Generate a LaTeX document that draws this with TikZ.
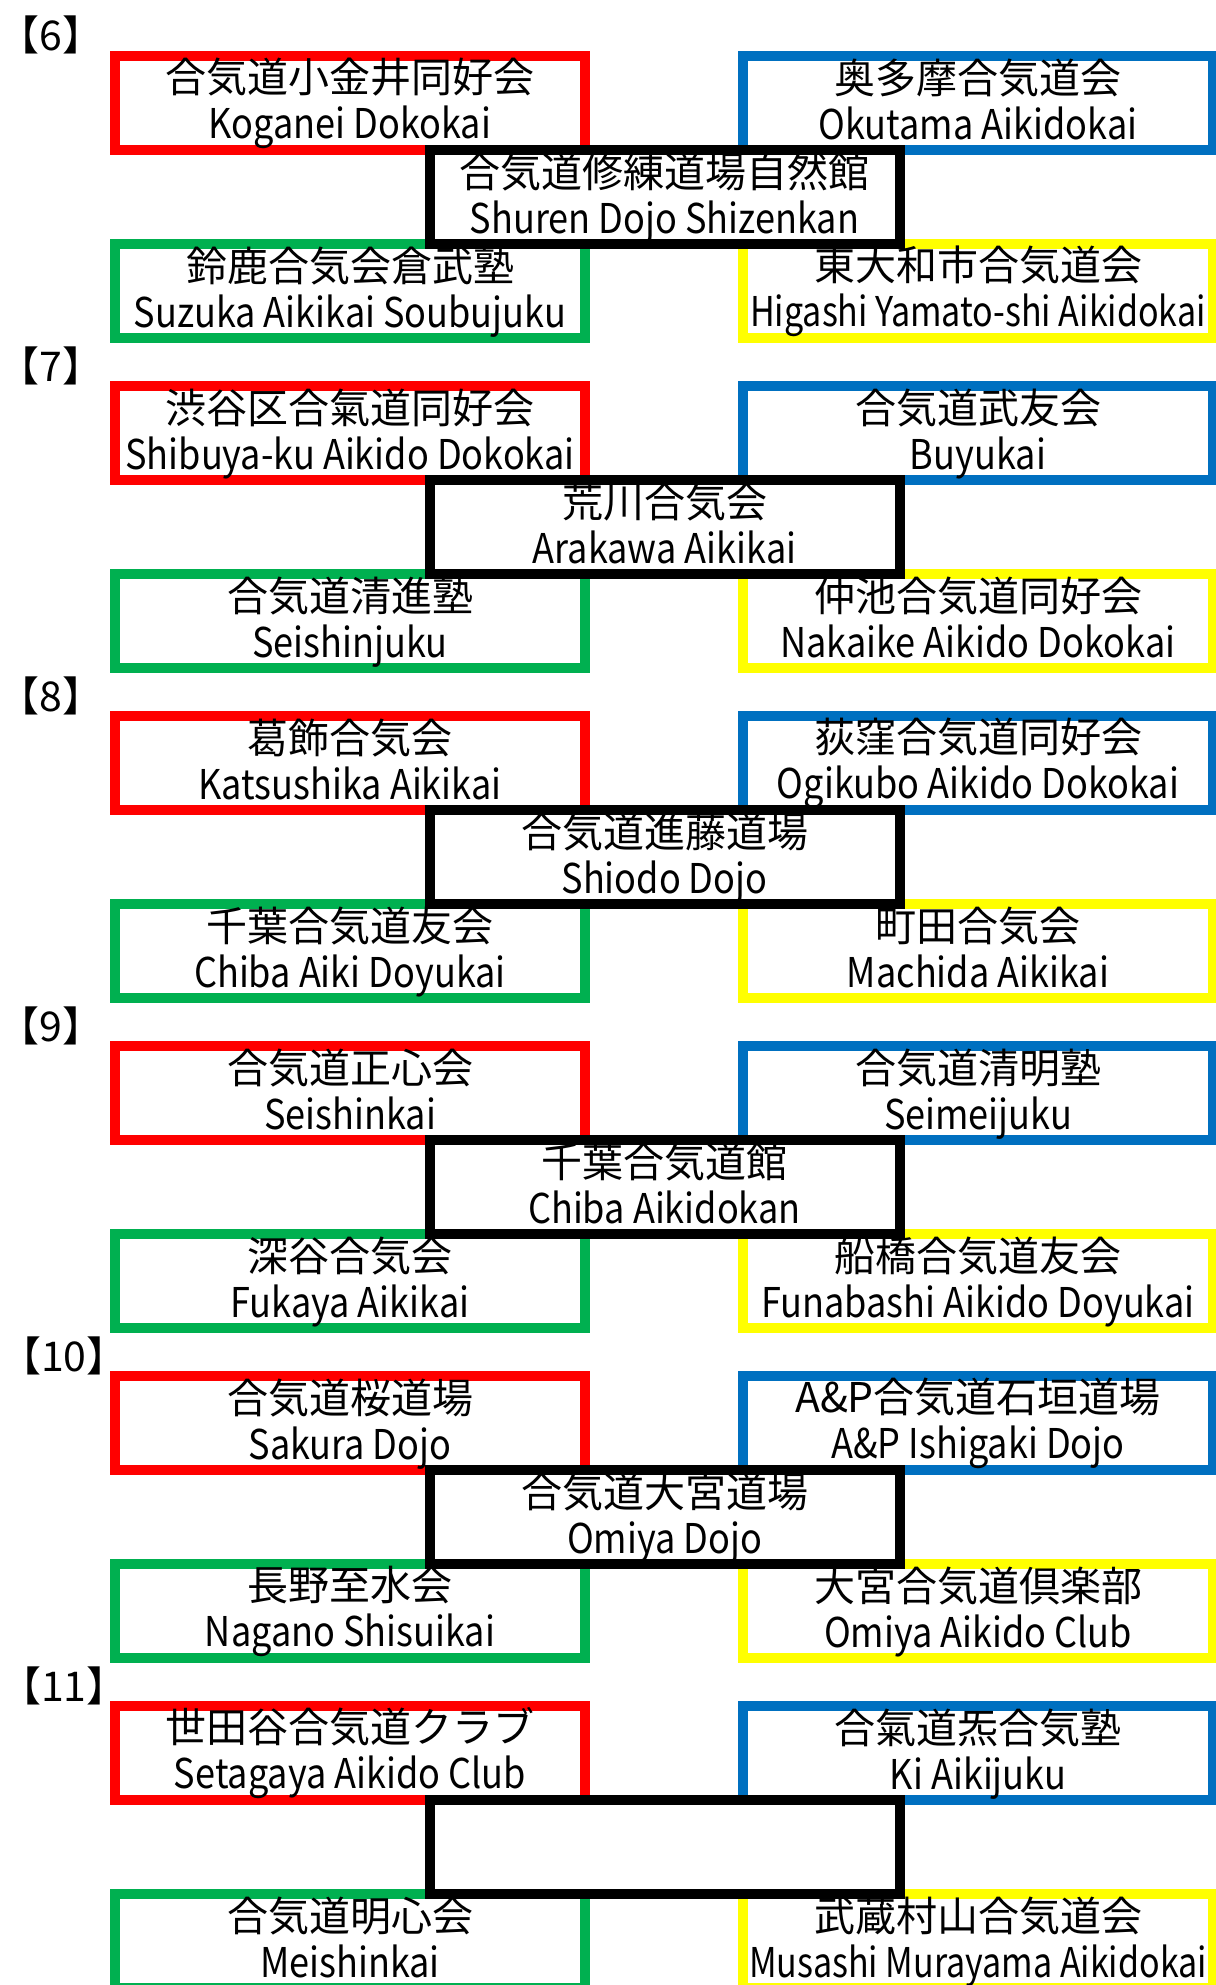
\documentclass[tikz,border=0pt]{standalone}
\usepackage{fontspec}
\setmainfont{Noto Sans CJK JP}
\newfontfamily\latin[FakeStretch=0.88]{Noto Sans CJK JP}
\newfontfamily\narrow[FakeStretch=0.83]{Noto Sans CJK JP}
\definecolor{clubred}{HTML}{FF0000}
\definecolor{clubblue}{HTML}{0070C0}
\definecolor{clubgreen}{HTML}{00B050}
\definecolor{clubyellow}{HTML}{FFFF00}
\def\boxw{470pt}
\def\boxh{94pt}
\newcommand\club[2]{\rule{0pt}{36pt}\makebox[0pt]{#1}\\\makebox[0pt]{\latin #2}\rule[-9pt]{0pt}{9pt}}

\begin{document}
\begin{tikzpicture}[x=1pt,y=-1pt,
  box/.style={draw, line width=10pt, minimum width=\boxw, minimum height=\boxh,
    inner sep=0pt, align=center, font=\fontsize{41}{46}\selectfont},
  redbox/.style={box, draw=clubred},
  bluebox/.style={box, draw=clubblue},
  greenbox/.style={box, draw=clubgreen},
  yellowbox/.style={box, draw=clubyellow},
  blackbox/.style={box, draw=black},
  head/.style={inner sep=0pt, font=\fontsize{41}{46}\selectfont}]
\useasboundingbox (0,0) rectangle (1215,1985);

% group headers
\foreach \g/\x/\y/\a in {6/51/51/base, 7/51/381/base, 8/51/711/base, 9/51/1041/base,
    10/0/1371/base west, 11/0/1701/base west}{
  \node[head, anchor=\a] (h\g) at (\x,\y) {【\g】};
}

% 6
\node[redbox] (r6) at (350,103) {\club{合気道小金井同好会}{Koganei Dokokai}};
\node[bluebox] (b6) at (978,103) {\club{奥多摩合気道会}{Okutama Aikidokai}};
\node[greenbox] (g6) at (350,291) {\club{鈴鹿合気会倉武塾}{Suzuka Aikikai Soubujuku}};
\node[yellowbox] (y6) at (978,291) {\club{東大和市合気道会}{\narrow Higashi Yamato-shi Aikidokai}};
\node[blackbox] (k6) at (664.5,197) {\club{合気道修練道場自然館}{Shuren Dojo Shizenkan}};

% 7
\node[redbox] (r7) at (350,433) {\club{渋谷区合氣道同好会}{Shibuya-ku Aikido Dokokai}};
\node[bluebox] (b7) at (978,433) {\club{合気道武友会}{Buyukai}};
\node[greenbox] (g7) at (350,621) {\club{合気道清進塾}{Seishinjuku}};
\node[yellowbox] (y7) at (978,621) {\club{仲池合気道同好会}{Nakaike Aikido Dokokai}};
\node[blackbox] (k7) at (664.5,527) {\club{荒川合気会}{Arakawa Aikikai}};

% 8
\node[redbox] (r8) at (350,763) {\club{葛飾合気会}{Katsushika Aikikai}};
\node[bluebox] (b8) at (978,763) {\club{荻窪合気道同好会}{Ogikubo Aikido Dokokai}};
\node[greenbox] (g8) at (350,951) {\club{千葉合気道友会}{Chiba Aiki Doyukai}};
\node[yellowbox] (y8) at (978,951) {\club{町田合気会}{Machida Aikikai}};
\node[blackbox] (k8) at (664.5,857) {\club{合気道進藤道場}{Shiodo Dojo}};

% 9
\node[redbox] (r9) at (350,1093) {\club{合気道正心会}{Seishinkai}};
\node[bluebox] (b9) at (978,1093) {\club{合気道清明塾}{Seimeijuku}};
\node[greenbox] (g9) at (350,1281) {\club{深谷合気会}{Fukaya Aikikai}};
\node[yellowbox] (y9) at (978,1281) {\club{船橋合気道友会}{Funabashi Aikido Doyukai}};
\node[blackbox] (k9) at (664.5,1187) {\club{千葉合気道館}{Chiba Aikidokan}};

% 10
\node[redbox] (r10) at (350,1423) {\club{合気道桜道場}{Sakura Dojo}};
\node[bluebox] (b10) at (978,1423) {\club{A\&P合気道石垣道場}{A\&P Ishigaki Dojo}};
\node[greenbox] (g10) at (350,1611) {\club{長野至水会}{Nagano Shisuikai}};
\node[yellowbox] (y10) at (978,1611) {\club{大宮合気道倶楽部}{Omiya Aikido Club}};
\node[blackbox] (k10) at (664.5,1517) {\club{合気道大宮道場}{Omiya Dojo}};

% 11
\node[redbox] (r11) at (350,1753) {\club{世田谷合気道クラブ}{Setagaya Aikido Club}};
\node[bluebox] (b11) at (978,1753) {\club{合氣道炁合気塾}{Ki Aikijuku}};
\node[greenbox] (g11) at (350,1941) {\club{合気道明心会}{Meishinkai}};
\node[yellowbox] (y11) at (978,1941) {\club{武蔵村山合気道会}{\narrow Musashi Murayama Aikidokai}};
\node[blackbox] (k11) at (664.5,1847) {};
\end{tikzpicture}
\end{document}
